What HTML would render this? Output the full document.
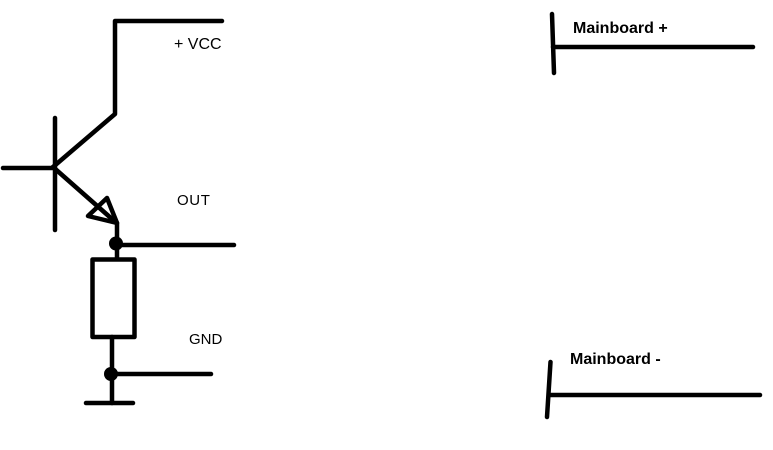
<!DOCTYPE html>
<html>
<head>
<meta charset="utf-8">
<style>
  html, body { margin: 0; padding: 0; background: #ffffff; }
  body { width: 773px; height: 450px; overflow: hidden; }
  svg { display: block; }
  text { font-family: "Liberation Sans", Arial, sans-serif; fill: #000; }
</style>
</head>
<body>
<svg width="773" height="450" viewBox="0 0 773 450" xmlns="http://www.w3.org/2000/svg">
  <rect x="0" y="0" width="773" height="450" fill="#ffffff"/>
  <g stroke="#000" stroke-width="4.5" fill="none" stroke-linecap="round" stroke-linejoin="round">
    <polyline points="222,21 115,21 115,114 53,167"/>
    <line x1="55" y1="118" x2="55" y2="230"/>
    <line x1="3" y1="168" x2="53" y2="168"/>
    <line x1="53" y1="167" x2="112" y2="219"/>
    <polygon points="107,198 88,216 117,223"/>
    <line x1="117" y1="223" x2="117" y2="243"/>
    <line x1="116" y1="245" x2="234" y2="245"/>
    <line x1="117" y1="245" x2="117" y2="259"/>
    <rect x="92.5" y="259.5" width="42" height="77.5"/>
    <line x1="112" y1="337" x2="112" y2="403"/>
    <line x1="111" y1="374" x2="211" y2="374"/>
    <line x1="86" y1="403" x2="133" y2="403"/>
    <line x1="552" y1="14" x2="554" y2="73"/>
    <line x1="553" y1="47" x2="753" y2="47"/>
    <line x1="550.5" y1="362" x2="547" y2="417"/>
    <line x1="549" y1="395" x2="760" y2="395"/>
  </g>
  <circle cx="116" cy="243.5" r="7" fill="#000"/>
  <circle cx="111" cy="374" r="7" fill="#000"/>
  <text x="174" y="49" font-size="16">+ VCC</text>
  <text x="177" y="205" font-size="15" letter-spacing="0.6">OUT</text>
  <text x="189" y="344" font-size="15">GND</text>
  <text x="573" y="33" font-size="16" font-weight="bold">Mainboard +</text>
  <text x="570" y="364" font-size="16" font-weight="bold">Mainboard -</text>
</svg>
</body>
</html>
